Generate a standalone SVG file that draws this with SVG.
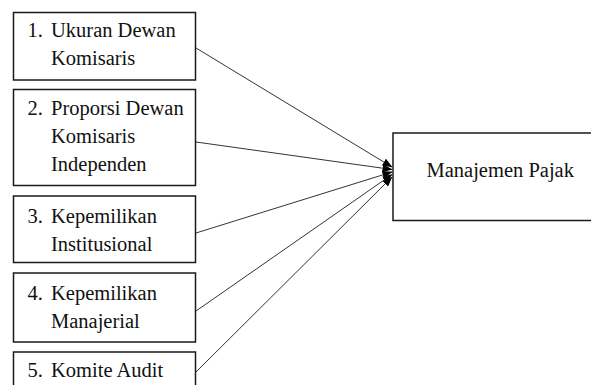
<svg xmlns="http://www.w3.org/2000/svg" width="591" height="385" viewBox="0 0 591 385">
<style>
.box{fill:#fff;stroke:#1a1a1a;stroke-width:1.5}
.t{font-family:"Liberation Serif","Times New Roman",serif;font-size:20.5px;fill:#111}
.c{stroke:#333;stroke-width:1;fill:none;marker-end:url(#ah)}
</style>
<defs>
<marker id="ah" markerUnits="userSpaceOnUse" markerWidth="10" markerHeight="8" refX="9.5" refY="4" orient="auto">
<path d="M0,0 L10,4 L0,8 z" fill="#000"/>
</marker>
</defs>
<rect width="591" height="385" fill="#fff"/>
<g id="connectors">
<line class="c" x1="196" y1="48" x2="392" y2="167"/>
<line class="c" x1="196" y1="142" x2="392" y2="169.5"/>
<line class="c" x1="196" y1="233" x2="392" y2="172"/>
<line class="c" x1="196" y1="311" x2="392" y2="174.5"/>
<line class="c" x1="196" y1="372" x2="392" y2="177"/>
</g>
<g id="n1">
<rect class="box" x="13.5" y="12.5" width="182" height="67.5"/>
<text class="t" x="27.5" y="37">1.</text>
<text class="t" x="51" y="37">Ukuran Dewan</text>
<text class="t" x="51" y="65">Komisaris</text>
</g>
<g id="n2">
<rect class="box" x="13.5" y="89.5" width="182" height="96"/>
<text class="t" x="27.5" y="115">2.</text>
<text class="t" x="51" y="115">Proporsi Dewan</text>
<text class="t" x="51" y="143">Komisaris</text>
<text class="t" x="51" y="171">Independen</text>
</g>
<g id="n3">
<rect class="box" x="13.5" y="196" width="182" height="66.5"/>
<text class="t" x="27.5" y="222.5">3.</text>
<text class="t" x="51" y="222.5">Kepemilikan</text>
<text class="t" x="51" y="250.5">Institusional</text>
</g>
<g id="n4">
<rect class="box" x="13.5" y="273" width="182" height="69"/>
<text class="t" x="27.5" y="299.5">4.</text>
<text class="t" x="51" y="299.5">Kepemilikan</text>
<text class="t" x="51" y="327.5">Manajerial</text>
</g>
<g id="n5">
<rect class="box" x="13.5" y="352" width="182" height="60"/>
<text class="t" x="27.5" y="376.5">5.</text>
<text class="t" x="51" y="376.5">Komite Audit</text>
</g>
<g id="n6">
<rect class="box" x="393" y="133" width="210" height="87.5"/>
<text class="t" x="426.5" y="177">Manajemen Pajak</text>
</g>
</svg>
